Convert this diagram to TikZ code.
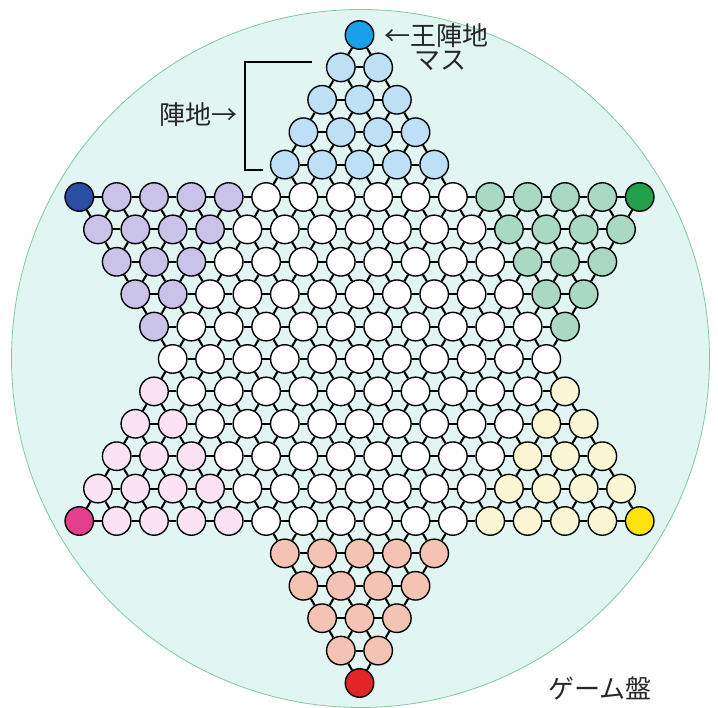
\documentclass[tikz,border=0pt]{standalone}
\usepackage{fontspec}
\newfontfamily\jp{Noto Sans CJK JP}
\definecolor{board}{HTML}{E1F6F3}
\definecolor{boardline}{HTML}{7FCB9C}
\definecolor{topk}{HTML}{1AA0E8}
\definecolor{topc}{HTML}{BEE0F6}
\definecolor{ulk}{HTML}{2B4DA6}
\definecolor{ulc}{HTML}{C9C3EA}
\definecolor{urk}{HTML}{22A04E}
\definecolor{urc}{HTML}{A9D9C3}
\definecolor{llk}{HTML}{E33F8C}
\definecolor{llc}{HTML}{FBE3F3}
\definecolor{lrk}{HTML}{FFE20A}
\definecolor{lrc}{HTML}{FBF6D4}
\definecolor{botk}{HTML}{E22525}
\definecolor{botc}{HTML}{F5C3B3}
% is hole (c,r) on the star? -> \ok
\newcommand\holetest[2]{%
  \pgfmathtruncatemacro\ha{abs(#1-15)}%
  \pgfmathtruncatemacro\ok{(((\ha<=#2) && (#2<=15)) || ((\ha<=20-#2) && (#2>=5))) ? 1 : 0}%
}
\begin{document}
\begin{tikzpicture}[x=1pt, y=-1pt,
    hole/.style = {circle, draw, line width=1.4pt, minimum size=28.5pt, inner sep=0pt},
    link/.style = {line width=2.1pt},
    tag/.style = {font=\jp\fontsize{26}{26}\selectfont, inner sep=0pt, text=black!85}]
  \useasboundingbox (0,0) rectangle (718,708);
  \node[circle, draw=boardline, fill=board, line width=0.8pt,
        minimum size=698pt, inner sep=0pt] (board) at (360.5,358.5) {};
  % holes
  \foreach \r in {0,...,20} {
    \foreach \c in {0,...,30} {
      \pgfmathtruncatemacro\hpar{mod(\c+\r,2)}
      \holetest{\c}{\r}
      \ifnum\hpar=1 \ifnum\ok=1
        \def\hc{white}
        \ifnum\r<5 \def\hc{topc}\fi
        \ifnum\r=0 \def\hc{topk}\fi
        \ifnum\r>15 \def\hc{botc}\fi
        \ifnum\r=20 \def\hc{botk}\fi
        \ifnum\r>4 \ifnum\r<16
          \pgfmathtruncatemacro\lim{20-\r}
          \ifnum\ha>\r
            \ifnum\c<15 \def\hc{ulc}\else\def\hc{urc}\fi
            \ifnum\ha=15 \ifnum\c<15 \def\hc{ulk}\else\def\hc{urk}\fi\fi
          \fi
          \ifnum\ha>\lim
            \ifnum\c<15 \def\hc{llc}\else\def\hc{lrc}\fi
            \ifnum\ha=15 \ifnum\c<15 \def\hc{llk}\else\def\hc{lrk}\fi\fi
          \fi
        \fi\fi
        \node[hole, fill=\hc] (h-\c-\r) at ({359.5+(\c-15)*18.68}, {35+\r*32.4}) {};
      \fi\fi
    }
  }
  % links
  \foreach \r in {0,...,20} {
    \foreach \c in {0,...,30} {
      \pgfmathtruncatemacro\hpar{mod(\c+\r,2)}
      \holetest{\c}{\r}
      \ifnum\hpar=1 \ifnum\ok=1
        \pgfmathtruncatemacro\cr{\c+2}
        \pgfmathtruncatemacro\cd{\c+1}
        \pgfmathtruncatemacro\cl{\c-1}
        \pgfmathtruncatemacro\rd{\r+1}
        \holetest{\cr}{\r}
        \ifnum\ok=1 \draw[link] (h-\c-\r) -- (h-\cr-\r); \fi
        \holetest{\cd}{\rd}
        \ifnum\ok=1 \draw[link] (h-\c-\r) -- (h-\cd-\rd); \fi
        \holetest{\cl}{\rd}
        \ifnum\ok=1 \draw[link] (h-\c-\r) -- (h-\cl-\rd); \fi
      \fi\fi
    }
  }
  % labels
  \node[tag, anchor=west] (king) at (384,36) {←王陣地};
  \node[tag, anchor=west] (cell) at (414,61) {マス};
  \coordinate (brtop) at (312,62);
  \coordinate (brbot) at (263,170);
  \draw[line width=1.3pt] (brtop) -| (245,170) -- (brbot);
  \node[tag, anchor=east] (camp) at (238,115) {陣地→};
  \node[tag] (title) at (600,688) {ゲーム盤};
\end{tikzpicture}
\end{document}
